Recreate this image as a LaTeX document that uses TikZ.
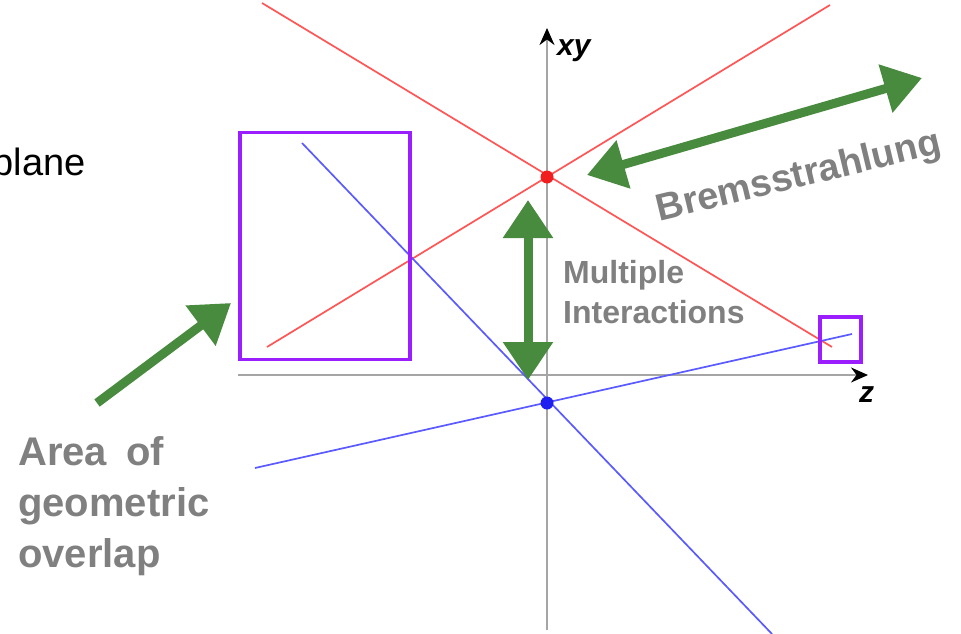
\documentclass[tikz,border=0pt]{standalone}
\usepackage{fontspec}
\setmainfont{Liberation Sans}
\usetikzlibrary{arrows.meta}
\definecolor{redline}{RGB}{255,85,85}
\definecolor{reddot}{RGB}{240,30,30}
\definecolor{blueline}{RGB}{90,90,255}
\definecolor{bluedot}{RGB}{30,30,240}
\definecolor{purp}{RGB}{155,30,255}
\definecolor{grn}{RGB}{72,138,62}
\definecolor{lbl}{RGB}{128,128,128}
\definecolor{axisgray}{RGB}{165,165,165}
\begin{document}
\begin{tikzpicture}[x=1pt,y=-1pt,
  axis/.style={axisgray, line width=2pt, -{Stealth[black,length=17pt,width=15pt]}},
  redl/.style={redline, line width=1.7pt},
  bluel/.style={blueline, line width=1.7pt},
  overlapbox/.style={draw=purp, line width=3.5pt, inner sep=0pt, fill=none},
  dot/.style={circle, inner sep=0pt, minimum size=13pt},
  greenarrow/.style={grn, line width=9pt, {Triangle[length=38pt,width=48pt]}-{Triangle[length=38pt,width=48pt]}},
  greenarrowone/.style={grn, line width=9pt, -{Triangle[length=38pt,width=48pt]}},
  graylabel/.style={text=lbl, inner sep=0pt, align=left},
]
\useasboundingbox (0,0) rectangle (961,634);
\clip (0,0) rectangle (961,634);

% axes
\coordinate (vbot) at (547,630);
\coordinate (vtop) at (547,28);
\coordinate (hl) at (238,375);
\coordinate (hr) at (868,375);
\draw[axis] (vbot) -- (vtop);
\draw[axis] (hl) -- (hr);
\node[anchor=base west, inner sep=0pt, font=\bfseries\itshape\fontsize{30}{36}\selectfont] (xylbl) at (557,56) {xy};
\node[anchor=base west, inner sep=0pt, font=\bfseries\itshape\fontsize{30}{36}\selectfont] (zlbl) at (859,402) {z};

% red lines
\coordinate (r1a) at (262,3);
\coordinate (r1b) at (832,347);
\coordinate (r2a) at (267,347);
\coordinate (r2b) at (830,5);
\draw[redl] (r1a) -- (r1b);
\draw[redl] (r2a) -- (r2b);

% blue lines
\coordinate (b1a) at (302,143);
\coordinate (b1b) at (772,634);
\coordinate (b2a) at (255,468);
\coordinate (b2b) at (852,334);
\draw[bluel] (b1a) -- (b1b);
\draw[bluel] (b2a) -- (b2b);

% dots
\node[dot, fill=reddot] (rdot) at (547,177) {};
\node[dot, fill=bluedot] (bdot) at (547,403) {};

% overlap boxes
\node[overlapbox, minimum width=170pt, minimum height=227pt] (bigbox) at (325,246) {};
\node[overlapbox, minimum width=41pt, minimum height=45pt] (smallbox) at (840.5,339.5) {};

% green arrows
\coordinate (bremA) at (587,175);
\coordinate (bremB) at (922,78);
\draw[greenarrow] (bremA) -- (bremB);
\coordinate (multA) at (528,200);
\coordinate (multB) at (528,380);
\draw[greenarrow] (multA) -- (multB);
\coordinate (areaA) at (97,403);
\coordinate (areaB) at (231,303);
\draw[greenarrowone] (areaA) -- (areaB);

% texts
\node[anchor=base east, inner sep=0pt, font=\fontsize{38}{46}\selectfont] (planelbl) at (86,175) {plane};
\node[graylabel, anchor=base, rotate=13.5, font=\bfseries\fontsize{38}{46}\selectfont] (bremlbl) at (801,187) {Bremsstrahlung};
\node[graylabel, anchor=north west, font=\bfseries\fontsize{32}{40}\selectfont] (multlbl) at (563,260) {Multiple\\Interactions};
\node[graylabel, anchor=north west, font=\bfseries\fontsize{40}{51}\selectfont] (arealbl) at (18,436) {Area\hspace{8pt} of\\geometric\\overlap};
\end{tikzpicture}
\end{document}
